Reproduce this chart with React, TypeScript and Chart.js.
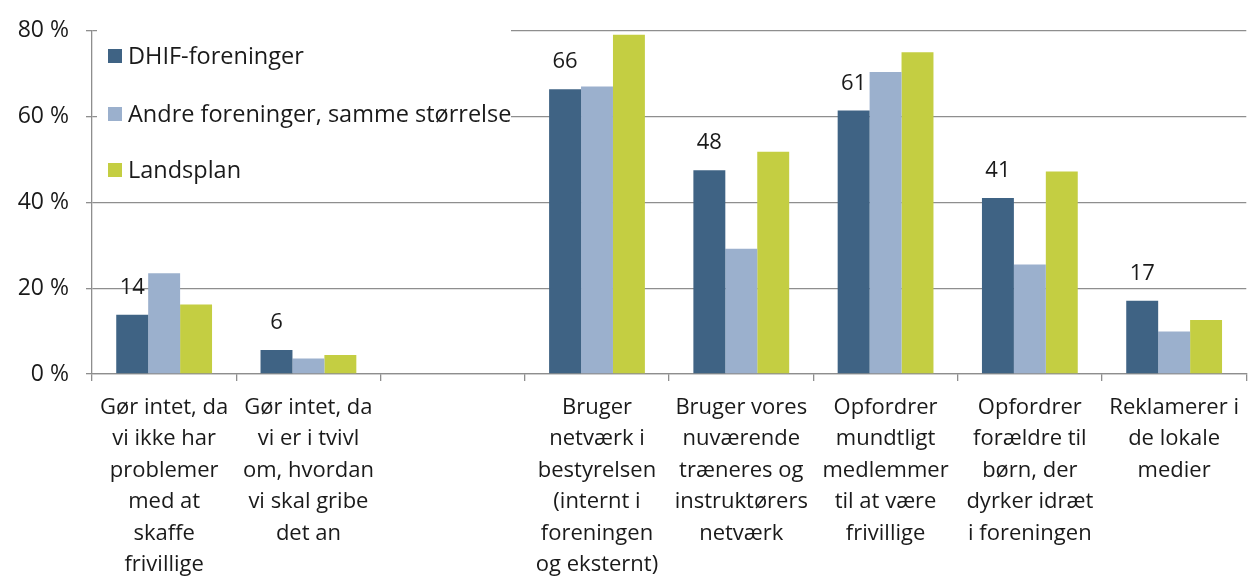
import React, { useEffect, useRef } from "react";
import { Chart, registerables } from "chart.js";

Chart.register(...registerables);

const categories: string[][] = [
  ["Gør intet, da", "vi ikke har", "problemer", "med at", "skaffe", "frivillige"],
  ["Gør intet, da", "vi er i tvivl", "om, hvordan", "vi skal gribe", "det an"],
  [""],
  ["Bruger", "netværk i", "bestyrelsen", "(internt i", "foreningen", "og eksternt)"],
  ["Bruger vores", "nuværende", "træneres og", "instruktørers", "netværk"],
  ["Opfordrer", "mundtligt", "medlemmer", "til at være", "frivillige"],
  ["Opfordrer", "forældre til", "børn, der", "dyrker idræt", "i foreningen"],
  ["Reklamerer i", "de lokale", "medier"],
];

const seriesNames = ["DHIF-foreninger", "Andre foreninger, samme størrelse", "Landsplan"];
const dhif = [13.8, 5.6, null, 66.4, 47.5, 61.4, 41.0, 17.1];
const andre = [23.5, 3.6, null, 67.0, 29.2, 70.4, 25.5, 9.9];
const landsplan = [16.2, 4.4, null, 79.1, 51.8, 75.0, 47.2, 12.6];
const dhifLabels = ["14", "6", "", "66", "48", "61", "41", "17"];
const yTicks = [0, 20, 40, 60, 80];

const colors = ["#3F6384", "#9BB0CD", "#C4CE42"];
const FONT = "'Open Sans', Lato, sans-serif";
const GRID = "#8E8E8E";

const overlayPlugin = {
  id: "overlay",
  afterDatasetsDraw(chart: any) {
    const ctx = chart.ctx;
    ctx.save();
    const meta = chart.getDatasetMeta(0);
    ctx.font = `22px ${FONT}`;
    ctx.fillStyle = "#1a1a1a";
    ctx.textAlign = "center";
    ctx.textBaseline = "middle";
    meta.data.forEach((bar: any, i: number) => {
      const t = dhifLabels[i];
      if (!t || dhif[i] == null) return;
      ctx.fillText(t, bar.x, bar.y - 27);
    });
    const area = chart.chartArea;
    ctx.fillStyle = "#ffffff";
    ctx.fillRect(area.left + 5, 30, 414, 162);
    const ys = [56, 114, 170];
    ctx.font = `23.5px ${FONT}`;
    seriesNames.forEach((n, i) => {
      ctx.fillStyle = colors[i];
      ctx.fillRect(area.left + 16, ys[i] - 7, 14, 14);
      ctx.fillStyle = "#1a1a1a";
      ctx.textAlign = "left";
      ctx.fillText(n, area.left + 36, ys[i] + 1);
    });
    ctx.restore();
  },
};

export default function App() {
  const ref = useRef<HTMLCanvasElement>(null);
  useEffect(() => {
    if (!ref.current) return;
    const chart = new Chart(ref.current, {
      type: "bar",
      data: {
        labels: categories,
        datasets: [
          { label: seriesNames[0], data: dhif, backgroundColor: colors[0] },
          { label: seriesNames[1], data: andre, backgroundColor: colors[1] },
          { label: seriesNames[2], data: landsplan, backgroundColor: colors[2] },
        ] as any,
      },
      options: {
        animation: false,
        responsive: false,
        maintainAspectRatio: false,
        layout: { padding: { top: 24, right: 1, left: 0, bottom: 0 } },
        datasets: { bar: { categoryPercentage: 0.664, barPercentage: 1, skipNull: false } } as any,
        plugins: { legend: { display: false }, tooltip: { enabled: false } },
        scales: {
          x: {
            grid: { display: true, drawOnChartArea: false, offset: true, color: GRID, tickLength: 7, lineWidth: 1.3 },
            border: { color: GRID, width: 1.3 },
            ticks: {
              autoSkip: false,
              maxRotation: 0,
              minRotation: 0,
              padding: 11,
              color: "#1a1a1a",
              font: { family: FONT, size: 22, lineHeight: 1.43 },
            },
            afterFit(scale: any) {
              scale.height = 202;
            },
          },
          y: {
            min: 0,
            max: 80,
            afterBuildTicks(scale: any) {
              scale.ticks = yTicks.map((v) => ({ value: v }));
            },
            grid: { color: GRID, tickLength: 6, lineWidth: 1.3 },
            border: { color: GRID, width: 1.3 },
            ticks: {
              padding: 17,
              color: "#1a1a1a",
              font: { family: FONT, size: 23 },
              callback: (v: any) => `${v} %`,
            },
            afterFit(scale: any) {
              scale.width = 92;
            },
          },
        },
      } as any,
      plugins: [overlayPlugin],
    });
    return () => chart.destroy();
  }, []);
  return (
    <div style={{ position: "fixed", left: 0, top: 0, width: 1250, height: 576, background: "#fff" }}>
      <canvas ref={ref} width={1250} height={576} style={{ display: "block" }} />
    </div>
  );
}
